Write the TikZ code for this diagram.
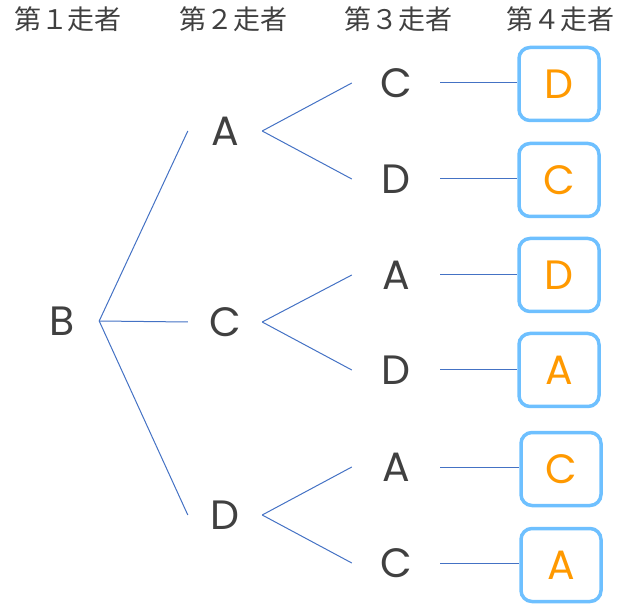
\documentclass[tikz,border=0pt]{standalone}
\usepackage{fontspec}
\setmainfont{Poppins}
\newfontfamily\jpfont{Noto Sans CJK JP}
\definecolor{treeblue}{RGB}{68,114,196}
\definecolor{boxblue}{RGB}{110,192,255}
\definecolor{ansorange}{RGB}{255,153,0}
\definecolor{txtgray}{RGB}{64,64,64}
\begin{document}
\begin{tikzpicture}[x=1pt,y=-1pt,
  head/.style={text=txtgray,inner sep=0pt,font=\jpfont\fontsize{27}{27}\selectfont},
  runner/.style={text=txtgray,inner sep=0pt,minimum width=74pt,font=\fontsize{41}{41}\selectfont},
  third/.style={runner,minimum width=88pt},
  answer/.style={draw=boxblue,line width=3.5pt,rounded corners=11pt,text=ansorange,minimum width=80pt,minimum height=73pt,inner sep=0pt,font=\fontsize{41}{41}\selectfont},
  edge/.style={treeblue,line width=1pt}]
\useasboundingbox (0,0) rectangle (630,604);
\node[head] (h1) at (68,19) {第１走者};
\node[head] (h2) at (233,19) {第２走者};
\node[head] (h3) at (398,19) {第３走者};
\node[head] (h4) at (560,19) {第４走者};

\node[runner] (b) at (62,321) {B};
\node[runner] (ba) at (225,131) {A};
\node[runner] (bc) at (225,322) {C};
\node[runner] (bd) at (225,515) {D};
\node[third] (bac) at (396,83) {C};
\node[third] (bad) at (396,179) {D};
\node[third] (bca) at (396,275) {A};
\node[third] (bcd) at (396,370) {D};
\node[third] (bda) at (396,467) {A};
\node[third] (bdc) at (396,563) {C};
\node[answer] (bacd) at (559,84) {D};
\node[answer] (badc) at (559,180) {C};
\node[answer] (bcad) at (559,275) {D};
\node[answer] (bcda) at (559,370) {A};
\node[answer] (bdac) at (561,469) {C};
\node[answer] (bdca) at (561,565) {A};

\draw[edge] (b.east) -- (ba.west);
\draw[edge] (b.east) -- (bc.west);
\draw[edge] (b.east) -- (bd.west);
\draw[edge] (ba.east) -- (bac.west);
\draw[edge] (ba.east) -- (bad.west);
\draw[edge] (bc.east) -- (bca.west);
\draw[edge] (bc.east) -- (bcd.west);
\draw[edge] (bd.east) -- (bda.west);
\draw[edge] (bd.east) -- (bdc.west);
\draw[edge] (bac.east) -- (bac.east -| bacd.west);
\draw[edge] (bad.east) -- (bad.east -| badc.west);
\draw[edge] (bca.east) -- (bca.east -| bcad.west);
\draw[edge] (bcd.east) -- (bcd.east -| bcda.west);
\draw[edge] (bda.east) -- (bda.east -| bdac.west);
\draw[edge] (bdc.east) -- (bdc.east -| bdca.west);
\end{tikzpicture}
\end{document}
